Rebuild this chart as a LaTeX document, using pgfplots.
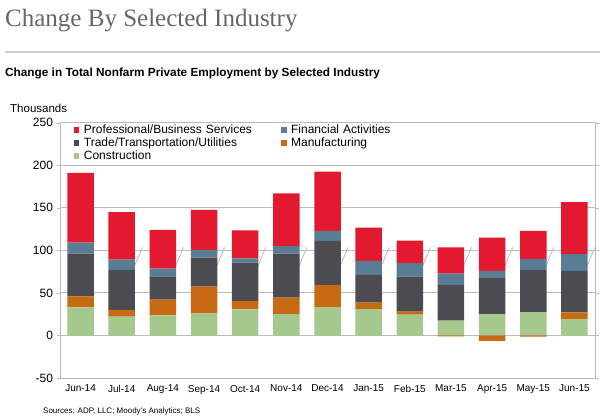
\documentclass[border=0pt]{standalone}
\usepackage{fontspec}
\setmainfont{Liberation Sans}
\newfontfamily\titlefont{Liberation Serif}
\usepackage{pgfplots}
\usepackage{pgfplotstable}
\pgfplotsset{compat=1.18}

\definecolor{profred}{HTML}{E31A2F}
\definecolor{finblue}{HTML}{5A7D96}
\definecolor{tradegray}{HTML}{4B4B50}
\definecolor{manuforange}{HTML}{C86914}
\definecolor{constrgreen}{HTML}{A5C88C}
\definecolor{gridgray}{HTML}{BBBBBB}
\definecolor{titlegray}{HTML}{666666}

% change in thousands; manufacturing negatives (Mar-Apr-May 15) drawn separately
\pgfplotstableread{
idx constr manuf trade fin prof
0  33   13   50   13   82
1  22   8    47   12   56
2  23.5 18.5 27.5 9    45.5
3  26   31.5 34   9    47
4  30.5 10   45   5    33
5  25   19.5 51.5 9    62
6  33.3 26   51.7 12   69.5
7  31   7.7  32.5 16.5 39
8  24.5 3.5  41   16   26.5
9  17.5 0    42   13   31
10 25   0    42.5 8.5  39
11 27   0    50   13   33
12 19.2 7.8  49   19.6 61
}\empdata

\begin{document}
\begin{tikzpicture}[x=1pt,y=1pt]
\path[use as bounding box] (0,0) rectangle (600,419);

% header
\node[anchor=base west, inner sep=0pt, font=\titlefont\fontsize{25}{28}\selectfont, text=titlegray]
  at (5,392.5) {Change By Selected Industry};
\draw[line width=2pt, black!18] (5,366.5) -- (600,366.5);
\node[anchor=base west, inner sep=0pt, font=\bfseries\fontsize{11.8}{14}\selectfont]
  at (5,342) {Change in Total Nonfarm Private Employment by Selected Industry};
\node[anchor=base west, inner sep=0pt, font=\fontsize{11.5}{13}\selectfont]
  at (10,306) {Thousands};
\node[anchor=base west, inner sep=0pt, font=\fontsize{8}{9}\selectfont]
  at (43,5) {Sources: ADP, LLC; Moody's Analytics; BLS};

\begin{axis}[
  at={(60pt,41pt)}, anchor=south west,
  scale only axis, width=535pt, height=255.3pt,
  xmin=-0.5, xmax=12.5, ymin=-50, ymax=250,
  ybar stacked, bar width=26.5pt,
  xtick={0,...,12},
  xticklabels={Jun-14,Jul-14,Aug-14,Sep-14,Oct-14,Nov-14,Dec-14,Jan-15,Feb-15,Mar-15,Apr-15,May-15,Jun-15},
  xtick style={draw=none},
  ytick={-50,0,...,250},
  tick align=outside, major tick length=3.5pt,
  ytick style={gridgray},
  ymajorgrids, grid style={gridgray, line width=0.8pt},
  axis line style={gridgray, line width=0.8pt},
  xticklabel style={font=\fontsize{10}{12}\selectfont},
  yticklabel style={font=\fontsize{12}{14}\selectfont},
  /pgf/number format/assume math mode=true,
  legend columns=2,
  reverse legend,
  legend cell align=left,
  legend style={at={(rel axis cs:0,1)}, anchor=north west, xshift=14pt, yshift=-1pt,
    draw=none, fill=none, inner sep=0pt, row sep=0pt, column sep=0pt,
    font=\fontsize{12}{13}\selectfont,
    nodes={inner xsep=4.5pt, inner ysep=0.5pt, text height=9pt, text depth=3pt,
      text width=193pt, align=left}},
  legend image code/.code={\fill[#1] (0pt,-2.2pt) rectangle (5.2pt,3pt);},
]
\addplot[fill=constrgreen, draw=none] table[x=idx, y=constr] {\empdata};
\addlegendentry{Construction}
\addplot[fill=manuforange, draw=none] table[x=idx, y=manuf] {\empdata};
\addlegendentry{Manufacturing}
\addplot[fill=tradegray, draw=none] table[x=idx, y=trade] {\empdata};
\addlegendentry{Trade/Transportation/Utilities}
\addplot[fill=finblue, draw=none] table[x=idx, y=fin] {\empdata};
\addlegendentry{Financial Activities}
\addplot[fill=profred, draw=none] table[x=idx, y=prof] {\empdata};
\addlegendentry{Professional/Business Services}

% category separators on the zero line
\pgfplotsinvokeforeach{0.5,1.5,...,11.5}{
  \draw[gridgray, line width=0.8pt] (axis cs:#1,0) ++(0,-3pt) -- ++(0,6pt);
}
\end{axis}

% negative manufacturing values
\begin{axis}[
  at={(60pt,41pt)}, anchor=south west,
  scale only axis, width=535pt, height=255.3pt,
  xmin=-0.5, xmax=12.5, ymin=-50, ymax=250,
  hide axis, ybar, bar width=26.5pt,
]
\addplot[fill=manuforange, draw=none, bar shift=0pt] coordinates {(9,-1) (10,-6.5) (11,-1.5)};
\end{axis}
\end{tikzpicture}
\end{document}
